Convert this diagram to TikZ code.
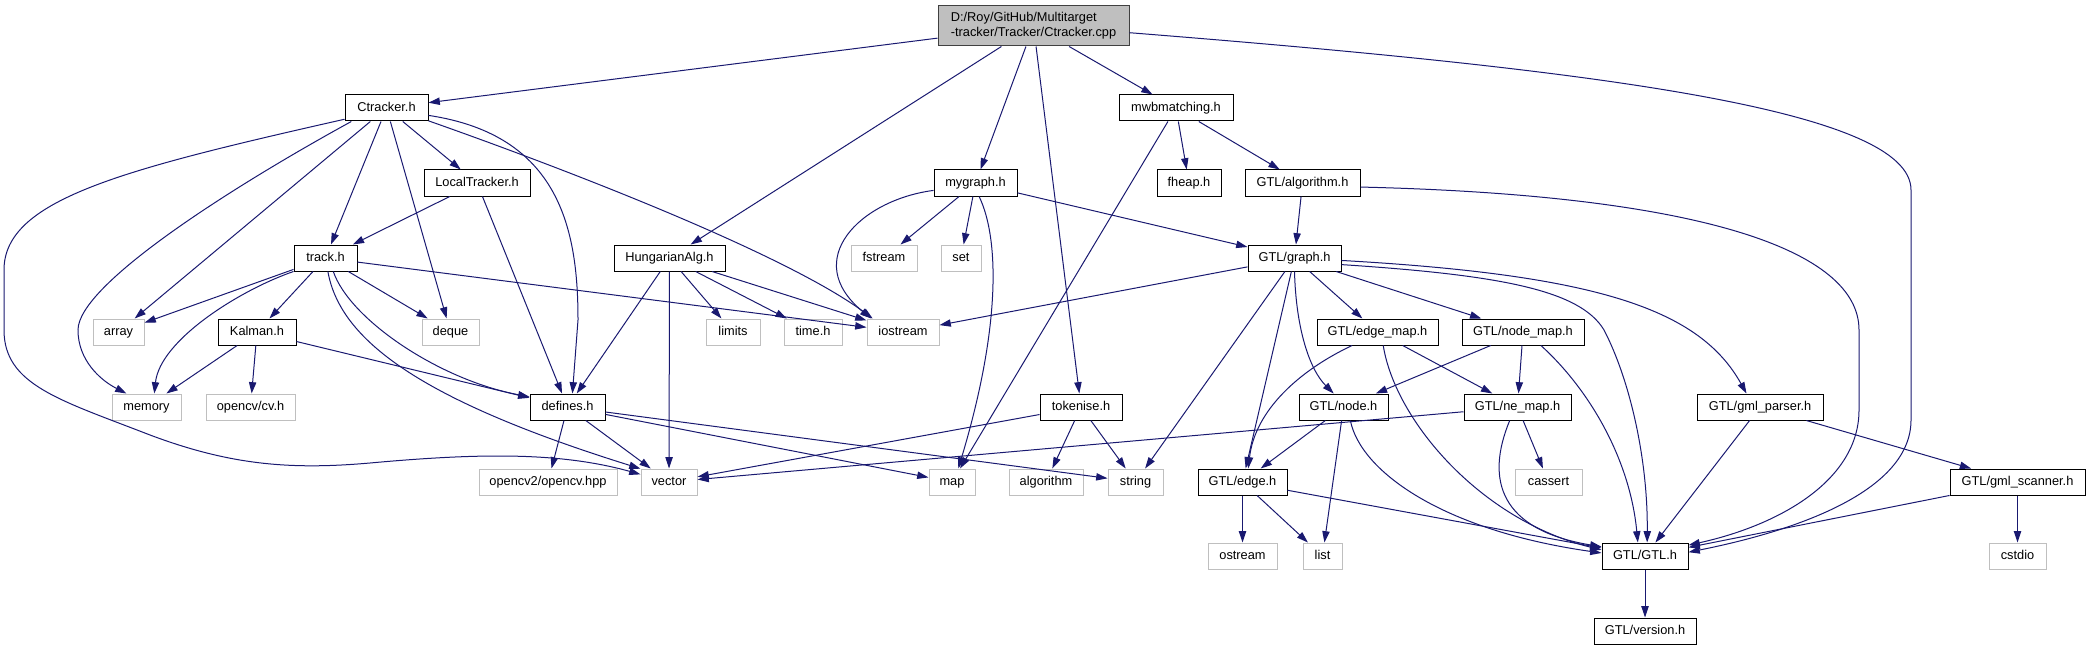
\documentclass[tikz,border=0pt]{standalone}
\usepackage{fontspec}
\setmainfont{Liberation Sans}
\usetikzlibrary{arrows.meta}
\definecolor{edgeblue}{HTML}{191970}
\definecolor{extgrey}{HTML}{BFBFBF}
\definecolor{rootline}{HTML}{404040}

\begin{document}
\begin{tikzpicture}[x=0.75pt, y=-0.75pt,
		hdr/.style={draw=black, line width=0.75pt, fill=white, minimum height=19.5pt, inner sep=0pt,
			text height=6.9pt, text depth=1.9pt, font=\fontsize{9.6}{11.5}\selectfont},
		ext/.style={hdr, draw=extgrey},
		root/.style={draw=rootline, line width=0.75pt, fill=extgrey, minimum height=30pt, inner sep=0pt,
			align=left, font=\fontsize{9.6}{11.25}\selectfont},
		inc/.style={-{Triangle[length=8.5pt,width=5.5pt]}, color=edgeblue, line width=0.75pt}]
		\useasboundingbox (0,0) rectangle (2087,649);

		\node[root, minimum width=143.25pt] (cpp) at (1033.5,26) {D:/Roy/GitHub/Multitarget\\-tracker/Tracker/Ctracker.cpp};

		\node[hdr, minimum width=62.25pt] (ctracker) at (386.5,108) {Ctracker.h};
		\node[hdr, minimum width=85.5pt] (mwb) at (1176,108) {mwbmatching.h};

		\node[hdr, minimum width=79.5pt] (local) at (477,183) {LocalTracker.h};
		\node[hdr, minimum width=62.25pt] (mygraph) at (975.5,183) {mygraph.h};
		\node[hdr, minimum width=48pt] (fheap) at (1189,183) {fheap.h};
		\node[hdr, minimum width=86.25pt] (gtlalgo) at (1302.5,183) {GTL/algorithm.h};

		\node[hdr, minimum width=47.25pt] (track) at (325.5,258) {track.h};
		\node[hdr, minimum width=83.25pt] (hung) at (669.5,258) {HungarianAlg.h};
		\node[ext, minimum width=49.5pt] (fstream) at (884,258) {fstream};
		\node[ext, minimum width=30pt] (set) at (961,258) {set};
		\node[hdr, minimum width=69.75pt] (graph) at (1294.5,258) {GTL/graph.h};

		\node[ext, minimum width=38.25pt] (array) at (118.5,332) {array};
		\node[hdr, minimum width=58.5pt] (kalman) at (257,332) {Kalman.h};
		\node[ext, minimum width=42.75pt] (deque) at (450.5,332) {deque};
		\node[ext, minimum width=40.5pt] (limits) at (733,332) {limits};
		\node[ext, minimum width=43.5pt] (timeh) at (813,332) {time.h};
		\node[ext, minimum width=54pt] (iostream) at (903,332) {iostream};
		\node[hdr, minimum width=90.75pt] (edgemap) at (1377.5,332) {GTL/edge\_map.h};
		\node[hdr, minimum width=91.5pt] (nodemap) at (1523,332) {GTL/node\_map.h};

		\node[ext, minimum width=51.75pt] (memory) at (146.5,407) {memory};
		\node[ext, minimum width=66.75pt] (cv) at (250.5,407) {opencv/cv.h};
		\node[hdr, minimum width=56.25pt] (defines) at (567.5,407) {defines.h};
		\node[hdr, minimum width=61.5pt] (tokenise) at (1081,407) {tokenise.h};
		\node[hdr, minimum width=66.75pt] (gtlnode) at (1343.5,407) {GTL/node.h};
		\node[hdr, minimum width=80.25pt] (nemap) at (1517.5,407) {GTL/ne\_map.h};
		\node[hdr, minimum width=94.5pt] (gmlparser) at (1760,407) {GTL/gml\_parser.h};

		\node[ext, minimum width=103.5pt] (opencv) at (548,482) {opencv2/opencv.hpp};
		\node[ext, minimum width=42pt] (vector) at (669,482) {vector};
		\node[ext, minimum width=34.5pt] (map) at (952,482) {map};
		\node[ext, minimum width=55.5pt] (algorithm) at (1046,482) {algorithm};
		\node[ext, minimum width=41.25pt] (string) at (1135.5,482) {string};
		\node[hdr, minimum width=66.75pt] (gtledge) at (1242.5,482) {GTL/edge.h};
		\node[ext, minimum width=50.25pt] (cassert) at (1548.5,482) {cassert};
		\node[hdr, minimum width=101.25pt] (gmlscanner) at (2017.5,482) {GTL/gml\_scanner.h};

		\node[ext, minimum width=51.75pt] (ostream) at (1242.5,556) {ostream};
		\node[ext, minimum width=29.25pt] (list) at (1322.5,556) {list};
		\node[hdr, minimum width=64.5pt] (gtl) at (1645,556) {GTL/GTL.h};
		\node[ext, minimum width=42.75pt] (cstdio) at (2017.5,556) {cstdio};

		\node[hdr, minimum width=76.5pt] (version) at (1645,631) {GTL/version.h};

		\draw[inc] (cpp) -- (ctracker);
		\draw[inc] (cpp) -- (hung);
		\draw[inc] (cpp) -- (mygraph);
		\draw[inc] (cpp) -- (tokenise);
		\draw[inc] (cpp) -- (mwb);
		\draw[inc] (cpp.-4) .. controls (1600,70) and (1911,110) .. (1911,190) -- (1911,420) .. controls (1911,490) and (1800,530) .. (gtl.5);

		\draw[inc] (ctracker) -- (array);
		\draw[inc] (ctracker) -- (track);
		\draw[inc] (ctracker) -- (deque);
		\draw[inc] (ctracker) -- (local);
		\draw[inc] (ctracker.201) .. controls (230,188) and (78,285) .. (78,330) .. controls (78,360) and (100,380) .. (memory.146);
		\draw[inc] (ctracker.195) .. controls (120,170) and (4,200) .. (4,270) -- (4,330) .. controls (4,385) and (60,400) .. (150,435)
			.. controls (230,465) and (290,470) .. (370,463) .. controls (480,453) and (560,452) .. (vector.165);
		\draw[inc] (ctracker.-10) .. controls (560,135) and (578,230) .. (578,320) -- (defines.70);
		\draw[inc] (ctracker.-17) .. controls (540,160) and (780,250) .. (iostream.156);

		\draw[inc] (local) -- (track);
		\draw[inc] (local) -- (defines);

		\draw[inc] (track) -- (array);
		\draw[inc] (track.south west) .. controls (240,290) and (160,340) .. (memory.60);
		\draw[inc] (track) -- (kalman);
		\draw[inc] (track) -- (deque);
		\draw[inc] (track.-60) .. controls (350,320) and (440,380) .. (defines.165);
		\draw[inc] (track.-80) .. controls (340,340) and (420,400) .. (vector.155);
		\draw[inc] (track) -- (iostream);

		\draw[inc] (kalman) -- (memory);
		\draw[inc] (kalman) -- (cv);
		\draw[inc] (kalman) -- (defines);

		\draw[inc] (hung) -- (defines);
		\draw[inc] (hung) -- (vector);
		\draw[inc] (hung) -- (limits);
		\draw[inc] (hung) -- (timeh);
		\draw[inc] (hung) -- (iostream);

		\draw[inc] (defines) -- (opencv);
		\draw[inc] (defines) -- (vector);
		\draw[inc] (defines) -- (map);
		\draw[inc] (defines) -- (string);

		\draw[inc] (mygraph.190) .. controls (860,200) and (800,260) .. (iostream.157);
		\draw[inc] (mygraph) -- (fstream);
		\draw[inc] (mygraph) -- (set);
		\draw[inc] (mygraph.-75) .. controls (1000,240) and (1000,330) .. (map.65);
		\draw[inc] (mygraph) -- (graph);

		\draw[inc] (mwb) -- (map);
		\draw[inc] (mwb) -- (fheap);
		\draw[inc] (mwb) -- (gtlalgo);

		\draw[inc] (gtlalgo) -- (graph);
		\draw[inc] (gtlalgo.-4) .. controls (1700,195) and (1859,250) .. (1859,330) -- (1859,410) .. controls (1859,480) and (1780,525) .. (gtl.14);

		\draw[inc] (graph) -- (iostream);
		\draw[inc] (graph) -- (string);
		\draw[inc] (graph) -- (gtledge);
		\draw[inc] (graph.south) .. controls (1296,330) and (1310,370) .. (gtlnode.126);
		\draw[inc] (graph) -- (edgemap);
		\draw[inc] (graph) -- (nodemap);
		\draw[inc] (graph.-8) .. controls (1500,275) and (1580,290) .. (1604,330) .. controls (1630,380) and (1648,460) .. (gtl.81);
		\draw[inc] (graph.-3) .. controls (1600,275) and (1700,310) .. (gmlparser.135);

		\draw[inc] (tokenise) -- (vector);
		\draw[inc] (tokenise) -- (algorithm);
		\draw[inc] (tokenise) -- (string);

		\draw[inc] (edgemap.208) .. controls (1300,370) and (1255,410) .. (gtledge.67);
		\draw[inc] (edgemap) -- (nemap);
		\draw[inc] (edgemap.-67) .. controls (1395,420) and (1480,520) .. (gtl.172);

		\draw[inc] (nodemap) -- (gtlnode);
		\draw[inc] (nodemap) -- (nemap);
		\draw[inc] (nodemap.-37) .. controls (1590,390) and (1630,460) .. (gtl.118);

		\draw[inc] (gtlnode) -- (gtledge);
		\draw[inc] (gtlnode) -- (list);
		\draw[inc] (gtlnode.-63) .. controls (1360,470) and (1440,530) .. (gtl.176);

		\draw[inc] (nemap) -- (vector);
		\draw[inc] (nemap) -- (cassert);
		\draw[inc] (nemap.240) .. controls (1485,480) and (1500,530) .. (gtl.168);

		\draw[inc] (gtledge) -- (ostream);
		\draw[inc] (gtledge) -- (list);
		\draw[inc] (gtledge) -- (gtl);

		\draw[inc] (gmlparser) -- (gtl);
		\draw[inc] (gmlparser) -- (gmlscanner);

		\draw[inc] (gmlscanner) -- (gtl);
		\draw[inc] (gmlscanner) -- (cstdio);

		\draw[inc] (gtl) -- (version);
	\end{tikzpicture}
\end{document}
